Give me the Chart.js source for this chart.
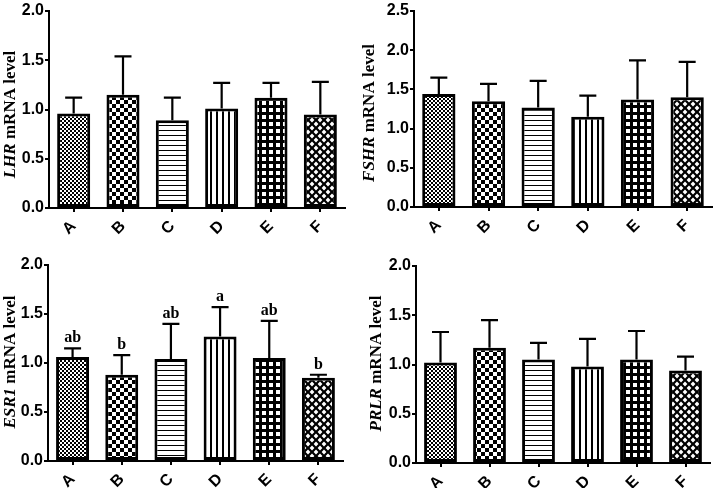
<!DOCTYPE html>
<html>
<head>
<meta charset="utf-8">
<script src="https://cdn.jsdelivr.net/npm/chart.js@4"></script>
<style>
  body { margin: 0; background: #fff; }
  #wrap { position: relative; width: 714px; height: 488px; }
  canvas { position: absolute; }
</style>
</head>
<body>
<div id="wrap">
  <canvas id="lhr" width="357" height="240" style="left:0;top:0"></canvas>
  <canvas id="fshr" width="357" height="240" style="left:357px;top:0"></canvas>
  <canvas id="esr1" width="357" height="248" style="left:0;top:240px"></canvas>
  <canvas id="prlr" width="357" height="248" style="left:357px;top:240px"></canvas>
</div>
<script>
const groups = ['A', 'B', 'C', 'D', 'E', 'F'];

const lhrMean = [0.96, 1.15, 0.89, 1.01, 1.12, 0.95];
const lhrErr  = [0.16, 0.39, 0.23, 0.26, 0.15, 0.33];

const fshrMean = [1.44, 1.35, 1.27, 1.15, 1.37, 1.40];
const fshrErr  = [0.21, 0.22, 0.34, 0.27, 0.50, 0.45];

const esr1Mean = [1.06, 0.88, 1.04, 1.27, 1.05, 0.85];
const esr1Err  = [0.09, 0.20, 0.36, 0.30, 0.38, 0.03];
const esr1Letters = ['ab', 'b', 'ab', 'a', 'ab', 'b'];

const prlrMean = [1.02, 1.17, 1.05, 0.98, 1.05, 0.94];
const prlrErr  = [0.31, 0.28, 0.17, 0.28, 0.29, 0.14];

// fill patterns, one per group
function pattern(size, draw) {
  const c = document.createElement('canvas');
  c.width = c.height = size;
  const g = c.getContext('2d');
  g.fillStyle = '#fff';
  g.fillRect(0, 0, size, size);
  g.fillStyle = '#000';
  draw(g, size);
  return g.createPattern(c, 'repeat');
}
function diamond(g, cx, cy, r) {
  g.beginPath();
  g.moveTo(cx, cy - r); g.lineTo(cx + r, cy); g.lineTo(cx, cy + r); g.lineTo(cx - r, cy);
  g.closePath(); g.fill();
}
const fills = [
  pattern(4, g => { g.fillRect(0, 0, 2, 2); g.fillRect(2, 2, 2, 2); }),
  pattern(8, g => { g.fillRect(0, 0, 4, 4); g.fillRect(4, 4, 4, 4); }),
  pattern(5, g => { g.fillRect(0, 0, 5, 1); }),
  pattern(6, g => { g.fillRect(0, 0, 2, 6); }),
  pattern(7, g => { g.fillRect(0, 0, 7, 3); g.fillRect(0, 0, 3, 7); }),
  pattern(8, g => {
    g.fillRect(0, 0, 8, 8);
    g.fillStyle = '#fff';
    diamond(g, 4, 4, 2.4);
    diamond(g, 0, 0, 2.4); diamond(g, 8, 0, 2.4);
    diamond(g, 0, 8, 2.4); diamond(g, 8, 8, 2.4);
  })
];

const errorBars = {
  id: 'errorBars',
  afterDatasetsDraw(chart) {
    const ds = chart.data.datasets[0];
    const meta = chart.getDatasetMeta(0);
    const y = chart.scales.y;
    const ctx = chart.ctx;
    ctx.save();
    ctx.strokeStyle = '#000';
    ctx.fillStyle = '#000';
    ctx.lineWidth = 2.2;
    meta.data.forEach((bar, i) => {
      const top = y.getPixelForValue(ds.data[i] + ds.errors[i]);
      ctx.beginPath();
      ctx.moveTo(bar.x, bar.y);
      ctx.lineTo(bar.x, top);
      ctx.moveTo(bar.x - 8.5, top);
      ctx.lineTo(bar.x + 8.5, top);
      ctx.stroke();
      if (ds.letters) {
        ctx.font = 'bold 16px "Liberation Serif", serif';
        ctx.textAlign = 'center';
        ctx.textBaseline = 'bottom';
        ctx.fillText(ds.letters[i], bar.x, top - 2);
      }
    });
    ctx.restore();
  }
};

const yTitle = {
  id: 'yTitle',
  afterDraw(chart, args, opts) {
    const ctx = chart.ctx;
    const a = chart.chartArea;
    const it = 'italic bold 17px "Liberation Serif", serif';
    const rm = 'bold 17px "Liberation Serif", serif';
    const rest = ' mRNA level';
    ctx.save();
    ctx.font = it;
    const w1 = ctx.measureText(opts.gene).width;
    ctx.font = rm;
    const w2 = ctx.measureText(rest).width;
    ctx.translate(opts.x, (a.top + a.bottom) / 2 + opts.dy);
    ctx.rotate(-Math.PI / 2);
    ctx.fillStyle = '#000';
    ctx.textBaseline = 'middle';
    ctx.textAlign = 'left';
    const x0 = -(w1 + w2) / 2;
    ctx.font = it;
    ctx.fillText(opts.gene, x0, 0);
    ctx.font = rm;
    ctx.fillText(rest, x0 + w1, 0);
    ctx.restore();
  }
};

const tickFont = { family: '"Liberation Sans", Arial, sans-serif', size: 16, weight: 'bold' };

function panel(id, gene, mean, err, max, box, letters) {
  new Chart(document.getElementById(id), {
    type: 'bar',
    data: {
      labels: groups,
      datasets: [{
        data: mean,
        errors: err,
        letters: letters,
        backgroundColor: fills,
        borderColor: '#000',
        borderWidth: 3,
        borderSkipped: false,
        categoryPercentage: 1,
        barPercentage: 0.67
      }]
    },
    options: {
      responsive: false,
      animation: false,
      devicePixelRatio: 1,
      layout: { padding: { left: 0, top: box.top, right: box.right, bottom: 0 } },
      plugins: {
        legend: { display: false },
        tooltip: { enabled: false },
        yTitle: { gene: gene, x: box.tx, dy: box.dy }
      },
      scales: {
        x: {
          grid: { offset: false, drawOnChartArea: false, color: '#000', lineWidth: 2, tickLength: 4 },
          border: { color: '#000', width: 2 },
          ticks: { color: '#000', font: tickFont, minRotation: 45, maxRotation: 45, padding: 5 },
          afterFit: s => { s.height = box.bottom; }
        },
        y: {
          min: 0, max: max,
          grid: { drawOnChartArea: false, color: '#000', lineWidth: 2, tickLength: 4 },
          border: { color: '#000', width: 2 },
          ticks: {
            stepSize: 0.5,
            color: '#000',
            padding: 1,
            font: tickFont,
            callback: v => v.toFixed(1)
          },
          afterFit: s => { s.width = box.left; }
        }
      }
    },
    plugins: [errorBars, yTitle]
  });
}

panel('lhr', 'LHR', lhrMean, lhrErr, 2.0, { left: 49, top: 11, right: 12, bottom: 32, tx: 11, dy: 5 });
panel('fshr', 'FSHR', fshrMean, fshrErr, 2.5, { left: 57, top: 11, right: 2, bottom: 33, tx: 13, dy: 4 });
panel('esr1', 'ESR1', esr1Mean, esr1Err, 2.0, { left: 48, top: 25, right: 14, bottom: 27, tx: 11, dy: -1 }, esr1Letters);
panel('prlr', 'PRLR', prlrMean, prlrErr, 2.0, { left: 59, top: 26, right: 4, bottom: 25, tx: 20, dy: -1 });
</script>
</body>
</html>
